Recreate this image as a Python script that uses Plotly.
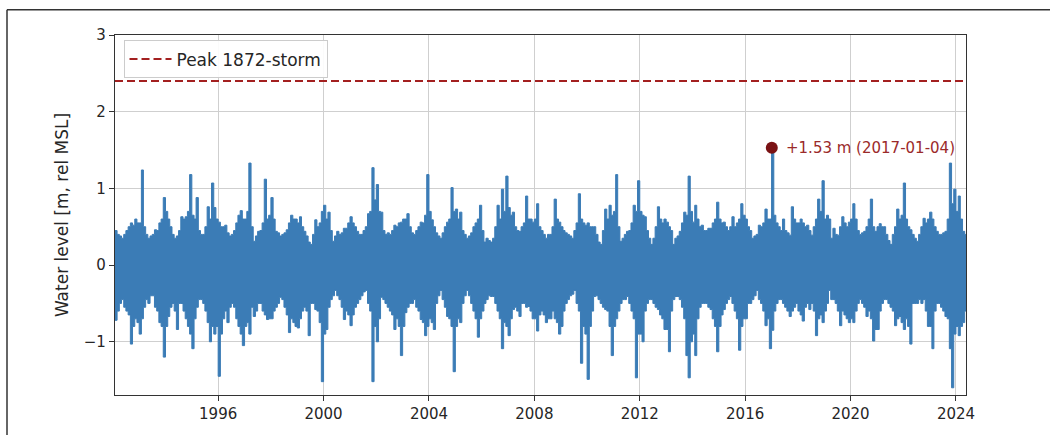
import pandas as pd
import plotly.graph_objects as go

# ---------------- data ----------------
# Monthly envelope of the hourly water level, Feb 1992 .. May 2024 [m rel MSL]
series_start = "1992-02-01"
monthly_high = [
    0.45, 0.40, 0.38, 0.35, 0.40, 0.45, 0.50, 0.55, 0.52, 0.60, 0.55,        # 1992 (Feb-Dec)
    0.55, 1.24, 0.50, 0.40, 0.35, 0.38, 0.40, 0.46, 0.45, 0.55, 0.60, 0.88,  # 1993
    0.70, 0.60, 0.50, 0.40, 0.35, 0.38, 0.45, 0.63, 0.60, 0.63, 0.70, 1.18,  # 1994
    0.65, 0.60, 0.88, 0.45, 0.40, 0.40, 0.50, 0.76, 0.60, 1.07, 0.75, 0.60,  # 1995
    0.56, 0.50, 0.50, 0.52, 0.42, 0.38, 0.40, 0.45, 0.55, 0.65, 0.71, 0.60,  # 1996
    0.60, 0.70, 1.33, 0.50, 0.31, 0.38, 0.44, 0.45, 0.55, 1.12, 0.60, 0.65,  # 1997
    0.88, 0.60, 0.44, 0.42, 0.38, 0.40, 0.42, 0.46, 0.55, 0.65, 0.60, 0.60,  # 1998
    0.55, 0.63, 0.50, 0.44, 0.38, 0.30, 0.27, 0.40, 0.59, 0.50, 0.55, 0.70,  # 1999
    0.78, 0.60, 0.69, 0.45, 0.31, 0.38, 0.44, 0.40, 0.42, 0.48, 0.48, 0.55,  # 2000
    0.63, 0.55, 0.50, 0.44, 0.40, 0.40, 0.45, 0.50, 0.67, 0.70, 1.27, 0.85,  # 2001
    1.05, 0.70, 0.69, 0.45, 0.40, 0.42, 0.40, 0.45, 0.52, 0.50, 0.55, 0.56,  # 2002
    0.60, 0.60, 0.67, 0.50, 0.42, 0.40, 0.45, 0.50, 0.56, 0.55, 0.65, 1.18,  # 2003
    0.70, 0.59, 0.50, 0.42, 0.38, 0.35, 0.42, 0.50, 0.56, 0.60, 1.01, 0.70,  # 2004
    0.73, 0.60, 0.69, 0.45, 0.40, 0.35, 0.38, 0.42, 0.50, 0.55, 0.60, 0.78,  # 2005
    0.45, 0.30, 0.35, 0.32, 0.30, 0.35, 0.50, 0.78, 0.60, 0.99, 0.70, 1.16,  # 2006
    0.75, 0.65, 0.69, 0.50, 0.45, 0.44, 0.50, 0.55, 0.90, 0.60, 0.60, 0.56,  # 2007
    0.60, 0.80, 0.50, 0.45, 0.40, 0.35, 0.40, 0.40, 0.50, 0.86, 0.60, 0.56,  # 2008
    0.50, 0.45, 0.42, 0.40, 0.38, 0.35, 0.45, 0.55, 0.93, 0.60, 0.55, 0.52,  # 2009
    0.55, 0.50, 0.50, 0.50, 0.40, 0.30, 0.27, 0.45, 0.73, 0.60, 0.78, 0.65,  # 2010
    0.70, 1.18, 0.50, 0.31, 0.35, 0.40, 0.44, 0.45, 0.55, 0.78, 0.70, 1.10,  # 2011
    0.70, 0.65, 0.63, 0.45, 0.35, 0.27, 0.35, 0.50, 0.76, 0.60, 0.55, 0.60,  # 2012
    0.56, 0.50, 0.45, 0.27, 0.35, 0.38, 0.44, 0.55, 0.69, 0.65, 1.16, 0.70,  # 2013
    0.56, 0.78, 0.60, 0.50, 0.52, 0.45, 0.45, 0.48, 0.48, 0.55, 0.60, 0.82,  # 2014
    0.60, 0.55, 0.56, 0.50, 0.45, 0.50, 0.63, 0.50, 0.55, 0.60, 0.80, 0.65,  # 2015
    0.60, 0.50, 0.45, 0.35, 0.38, 0.40, 0.52, 0.50, 0.55, 0.73, 0.60, 0.60,  # 2016
    1.53, 0.65, 0.55, 0.50, 0.45, 0.60, 0.45, 0.42, 0.39, 0.76, 0.60, 0.55,  # 2017
    0.55, 0.60, 0.55, 0.50, 0.52, 0.45, 0.39, 0.50, 0.60, 0.86, 0.70, 1.10,  # 2018
    0.60, 0.65, 0.60, 0.35, 0.48, 0.40, 0.39, 0.50, 0.63, 0.55, 0.50, 0.56,  # 2019
    0.60, 0.80, 0.60, 0.45, 0.40, 0.42, 0.44, 0.50, 0.60, 0.86, 0.50, 0.44,  # 2020
    0.50, 0.54, 0.50, 0.50, 0.40, 0.32, 0.27, 0.40, 0.50, 0.73, 0.60, 0.65,  # 2021
    1.07, 0.60, 0.50, 0.46, 0.40, 0.35, 0.31, 0.40, 0.50, 0.61, 0.55, 0.60,  # 2022
    0.69, 0.60, 0.50, 0.44, 0.40, 0.40, 0.42, 0.44, 0.60, 1.33, 0.80, 0.99,  # 2023
    0.70, 0.90, 0.60, 0.44, 0.40,                                            # 2024 (Jan-May)
]
monthly_low = [
    -0.72, -0.60, -0.50, -0.45, -0.55, -0.60, -0.65, -1.03, -0.80, -0.70, -0.75,         # 1992
    -0.90, -0.70, -0.55, -0.45, -0.50, -0.40, -0.40, -0.55, -0.60, -0.75, -0.80, -1.20,  # 1993
    -0.80, -0.67, -0.55, -0.50, -0.60, -0.84, -0.50, -0.50, -0.60, -0.70, -0.80, -0.90,  # 1994
    -1.09, -0.70, -0.55, -0.45, -0.45, -0.50, -0.60, -0.75, -1.00, -0.80, -0.90, -0.80,  # 1995
    -1.45, -0.90, -0.70, -0.60, -0.75, -0.55, -0.50, -0.55, -0.70, -0.80, -0.90, -1.05,  # 1996
    -0.80, -0.75, -0.90, -0.55, -0.67, -0.60, -0.50, -0.50, -0.60, -0.65, -0.71, -0.70,  # 1997
    -0.70, -0.60, -0.55, -0.50, -0.42, -0.45, -0.55, -0.65, -0.88, -0.70, -0.75, -0.80,  # 1998
    -0.82, -0.70, -0.60, -0.55, -0.60, -0.92, -0.50, -0.50, -0.58, -0.60, -0.75, -1.52,  # 1999
    -0.90, -0.84, -0.55, -0.45, -0.40, -0.33, -0.40, -0.45, -0.55, -0.71, -0.60, -0.65,  # 2000
    -0.79, -0.65, -0.55, -0.50, -0.45, -0.40, -0.35, -0.33, -0.50, -0.60, -1.52, -0.80,  # 2001
    -1.00, -0.70, -0.42, -0.45, -0.50, -0.55, -0.60, -0.65, -0.84, -0.70, -0.80, -1.18,  # 2002
    -0.80, -0.62, -0.55, -0.50, -0.50, -0.45, -0.55, -0.60, -0.71, -0.75, -0.92, -0.80,  # 2003
    -0.70, -0.75, -0.84, -0.50, -0.40, -0.33, -0.45, -0.55, -0.67, -0.70, -0.80, -1.39,  # 2004
    -0.80, -0.70, -0.75, -0.50, -0.40, -0.33, -0.40, -0.50, -0.60, -0.70, -0.94, -0.70,  # 2005
    -0.60, -0.50, -0.45, -0.40, -0.41, -0.41, -0.50, -0.60, -0.70, -1.09, -0.75, -0.80,  # 2006
    -0.92, -0.70, -0.58, -0.55, -0.60, -0.67, -0.50, -0.50, -0.55, -0.54, -0.60, -0.70,  # 2007
    -0.70, -0.86, -0.65, -0.60, -0.65, -0.75, -0.70, -0.70, -0.60, -0.70, -0.75, -0.90,  # 2008
    -0.80, -0.60, -0.50, -0.45, -0.40, -0.38, -0.33, -0.50, -0.60, -1.28, -0.80, -0.90,  # 2009
    -1.49, -0.80, -0.60, -0.41, -0.40, -0.45, -0.50, -0.55, -0.58, -0.60, -0.80, -1.18,  # 2010
    -0.80, -0.70, -0.60, -0.50, -0.45, -0.45, -0.41, -0.50, -0.60, -0.70, -1.47, -0.90,  # 2011
    -0.90, -1.00, -0.60, -0.50, -0.45, -0.45, -0.50, -0.55, -0.58, -0.65, -0.70, -0.84,  # 2012
    -0.84, -1.13, -0.60, -0.45, -0.41, -0.41, -0.45, -0.55, -0.70, -1.18, -1.47, -1.00,  # 2013
    -0.90, -1.18, -0.70, -0.55, -0.50, -0.50, -0.50, -0.55, -0.58, -0.70, -0.80, -1.13,  # 2014
    -0.80, -0.65, -0.58, -0.50, -0.45, -0.41, -0.50, -0.60, -0.70, -1.11, -0.80, -0.70,  # 2015
    -0.70, -0.50, -0.50, -0.45, -0.40, -0.33, -0.45, -0.50, -0.60, -0.79, -0.70, -1.09,  # 2016
    -0.85, -0.60, -0.50, -0.45, -0.45, -0.50, -0.55, -0.60, -0.67, -0.60, -0.55, -0.50,  # 2017
    -0.60, -0.65, -0.73, -0.55, -0.50, -0.58, -0.50, -0.60, -0.92, -0.70, -0.65, -0.75,  # 2018
    -0.60, -0.50, -0.33, -0.45, -0.45, -0.50, -0.60, -0.79, -0.60, -0.65, -0.70, -0.75,  # 2019
    -0.70, -0.75, -0.60, -0.50, -0.45, -0.50, -0.55, -0.67, -0.60, -0.70, -0.99, -0.84,  # 2020
    -0.84, -0.60, -0.50, -0.45, -0.45, -0.50, -0.55, -0.60, -0.79, -0.70, -0.67, -0.75,  # 2021
    -0.84, -0.70, -0.80, -1.03, -0.50, -0.50, -0.50, -0.45, -0.50, -0.45, -0.60, -0.80,  # 2022
    -0.80, -1.09, -0.60, -0.50, -0.50, -0.55, -0.60, -0.67, -0.70, -1.09, -1.60, -0.90,  # 2023
    -0.80, -0.92, -0.80, -0.75, -0.60,                                                   # 2024
]

storm_label = "Peak 1872-storm"
storm_level = 2.40            # m rel MSL
peak_date = "2017-01-04"
peak_level = 1.53             # m rel MSL
x_start, x_end = "1992-02-01", "2024-05-19"
tick_years = [1996, 2000, 2004, 2008, 2012, 2016, 2020, 2024]
y_ticks = [-1, 0, 1, 2, 3]

# ---------------- build traces from the monthly envelope ----------------
n = min(len(monthly_high), len(monthly_low))
months = list(pd.date_range(series_start, periods=n, freq="MS"))
step_x = months + [pd.Timestamp(x_end)]
step_hi = list(monthly_high[:n]) + [monthly_high[n - 1]]
step_lo = list(monthly_low[:n]) + [monthly_low[n - 1]]

BLUE = "#3b7cb6"
DARKRED = "#a32020"

fig = go.Figure()
# per-month min/max columns, like the dense hourly record drawn in one colour
fig.add_trace(go.Scatter(x=step_x, y=step_lo, mode="lines",
                         line=dict(color=BLUE, width=1, shape="hv", simplify=False),
                         showlegend=False, hoverinfo="skip"))
fig.add_trace(go.Scatter(x=step_x, y=step_hi, mode="lines", fill="tonexty", fillcolor=BLUE,
                         line=dict(color=BLUE, width=1, shape="hv", simplify=False),
                         showlegend=False, hoverinfo="skip"))
fig.add_trace(go.Scatter(x=[x_start, x_end], y=[storm_level, storm_level], mode="lines",
                         name=storm_label,
                         line=dict(color=DARKRED, width=2, dash="8px,4px")))
fig.add_trace(go.Scatter(x=[peak_date], y=[peak_level], mode="markers",
                         marker=dict(color="#7a1214", size=12),
                         showlegend=False))
fig.add_annotation(x=peak_date, y=peak_level, xref="x", yref="y",
                   text=f"+{peak_level:.2f} m ({peak_date})", showarrow=False,
                   xanchor="left", yanchor="middle", xshift=12,
                   font=dict(size=15, color="#9b2a2a", family="DejaVu Sans"))

# outer frame of the picture (left and top edges)
fx = (7 - 115) / 851
fy = (404 - 9) / 369
fig.add_shape(type="line", xref="paper", yref="paper", x0=fx, x1=fx, y0=-0.2, y1=fy,
              line=dict(color="#333333", width=1.5))
fig.add_shape(type="line", xref="paper", yref="paper", x0=fx, x1=1.2, y0=fy, y1=fy,
              line=dict(color="#333333", width=1.5))

axis_font = dict(family="DejaVu Sans", size=15, color="#262626")
fig.update_layout(
    width=1050, height=435,
    margin=dict(l=115, r=84, t=35, b=31),
    paper_bgcolor="white", plot_bgcolor="white",
    font=axis_font,
    legend=dict(x=0.01, y=0.985, xanchor="left", yanchor="top", itemwidth=42,
                bgcolor="rgba(255,255,255,0.9)", bordercolor="#cccccc", borderwidth=1,
                font=dict(family="DejaVu Sans", size=17, color="#262626")),
)
fig.update_xaxes(
    type="date", range=[x_start, x_end],
    tickvals=[f"{y}-01-01" for y in tick_years], ticktext=[str(y) for y in tick_years],
    showgrid=True, gridcolor="#cfcfcf", gridwidth=1,
    showline=True, linecolor="#333333", linewidth=1.2, mirror=True,
    ticks="outside", ticklen=5, tickcolor="#333333", zeroline=False,
)
fig.update_yaxes(
    range=[-1.694, 3.0], tickvals=y_ticks, ticktext=["\u22121" if v == -1 else str(v) for v in y_ticks],
    showgrid=True, gridcolor="#cfcfcf", gridwidth=1,
    showline=True, linecolor="#333333", linewidth=1.2, mirror=True,
    ticks="outside", ticklen=5, tickcolor="#333333", zeroline=False,
    title=dict(text="Water level [m, rel MSL]", font=dict(family="DejaVu Sans", size=17, color="#262626"),
               standoff=10),
)

fig.write_html("out.html")
